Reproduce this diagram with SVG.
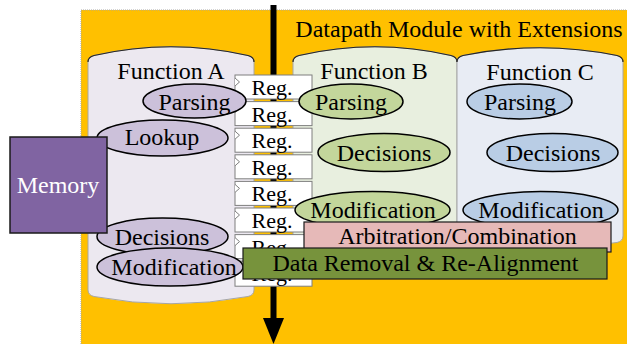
<svg xmlns="http://www.w3.org/2000/svg" width="627" height="344" viewBox="0 0 627 344">
<style>
text{font-family:"Liberation Serif","Times New Roman",serif;font-size:24px;fill:#000;text-anchor:middle}
.reg rect{fill:#fff;stroke:#7f7f7f;stroke-width:1}
.reg path{fill:#fff;stroke:#7f7f7f;stroke-width:1}
.reg text{font-size:22px}
.cyl{stroke:#a6a6a6;stroke-width:1}
.top{fill:none;stroke:#262626;stroke-width:1.2}
.ea ellipse{fill:#ccc1da;stroke:#000;stroke-width:1.5}
.eb ellipse{fill:#c3d69b;stroke:#000;stroke-width:1.5}
.ec ellipse{fill:#b9cde5;stroke:#000;stroke-width:1.5}
</style>
<rect x="81" y="10" width="546" height="334" fill="#ffc000"/>
<path d="M81,344 V10 H627" fill="none" stroke="#a6a6a6" stroke-width="1" stroke-dasharray="1,1"/>
<text x="459" y="37">Datapath Module with Extensions</text>

<g id="functionA">
<path class="cyl" d="M88,62 Q88,57 94,55.5 Q171,38 248,55.5 Q254,57 254,62 L254,290 Q254,295 248,296.5 Q171,311 94,296.5 Q88,295 88,290 Z" fill="#ece8f0"/>
<path class="top" d="M88,62 Q88,57 94,55.5 Q171,38 248,55.5 Q254,57 254,62"/>
<text x="171" y="79">Function A</text>
</g>
<g id="functionB">
<path class="cyl" d="M293,62 Q293,57 299,55.5 Q375,38 451,55.5 Q457,57 457,62 L457,234 Q457,239 451,240.5 Q375,252 299,240.5 Q293,239 293,234 Z" fill="#e8efdf"/>
<path class="top" d="M293,62 Q293,57 299,55.5 Q375,38 451,55.5 Q457,57 457,62"/>
<text x="374" y="79">Function B</text>
</g>
<g id="functionC">
<path class="cyl" d="M457,62 Q457,57 463,55.5 Q540,40 617,55.5 Q623,57 623,62 L623,236 Q623,241 617,242.5 Q540,254 463,242.5 Q457,241 457,236 Z" fill="#e8ecf4"/>
<path class="top" d="M457,62 Q457,57 463,55.5 Q540,40 617,55.5 Q623,57 623,62"/>
<text x="540" y="80">Function C</text>
</g>

<g id="connectors">
<line x1="273.5" y1="5" x2="273.5" y2="320" stroke="#000" stroke-width="6"/>
<polygon points="263,318 284,318 273.5,344" fill="#000"/>
</g>

<g id="registers" class="reg">
<rect x="235" y="75" width="77" height="24"/><path d="M235,78 L239.5,82 L235,86"/><text x="272" y="95">Reg.</text>
<rect x="235" y="101.6" width="77" height="24"/><path d="M235,104.6 L239.5,108.6 L235,112.6"/><text x="272" y="121.6">Reg.</text>
<rect x="235" y="128.2" width="77" height="24"/><path d="M235,131.2 L239.5,135.2 L235,139.2"/><text x="272" y="148.2">Reg.</text>
<rect x="235" y="154.8" width="77" height="24"/><path d="M235,157.8 L239.5,161.8 L235,165.8"/><text x="272" y="174.8">Reg.</text>
<rect x="235" y="181.4" width="77" height="24"/><path d="M235,184.4 L239.5,188.4 L235,192.4"/><text x="272" y="201.4">Reg.</text>
<rect x="235" y="208" width="77" height="24"/><path d="M235,211 L239.5,215 L235,219"/><text x="272" y="228">Reg.</text>
<rect x="235" y="234.6" width="77" height="24"/><path d="M235,237.6 L239.5,241.6 L235,245.6"/><text x="272" y="254.6">Reg.</text>
<rect x="235" y="261.2" width="77" height="25"/><path d="M235,264.2 L239.5,268.2 L235,272.2"/><text x="272" y="281.2">Reg.</text>
</g>

<g id="a-parsing" class="ea"><ellipse cx="194.5" cy="101" rx="51.5" ry="17"/><text x="194.5" y="110">Parsing</text></g>
<g id="a-lookup" class="ea"><ellipse cx="162.5" cy="138" rx="65.5" ry="18"/><text x="162" y="145">Lookup</text></g>
<g id="a-decisions" class="ea"><ellipse cx="162.5" cy="236.5" rx="65.5" ry="18.5"/><text x="162" y="245">Decisions</text></g>
<g id="a-modification" class="ea"><ellipse cx="170" cy="267" rx="73" ry="19"/><text x="174" y="275">Modification</text></g>

<g id="b-parsing" class="eb"><ellipse cx="351" cy="101.5" rx="52" ry="17.5"/><text x="351" y="110">Parsing</text></g>
<g id="b-decisions" class="eb"><ellipse cx="384" cy="152.5" rx="66" ry="19"/><text x="384" y="161">Decisions</text></g>
<g id="b-modification" class="eb"><ellipse cx="372.5" cy="210" rx="77.5" ry="18.5"/><text x="373" y="218">Modification</text></g>

<g id="c-parsing" class="ec"><ellipse cx="519.5" cy="101.5" rx="52.5" ry="17.5"/><text x="520" y="110">Parsing</text></g>
<g id="c-decisions" class="ec"><ellipse cx="552.5" cy="152.5" rx="65.5" ry="19"/><text x="553" y="161">Decisions</text></g>
<g id="c-modification" class="ec"><ellipse cx="540.5" cy="210" rx="77.5" ry="18.5"/><text x="541" y="218">Modification</text></g>

<g id="memory">
<rect x="10" y="137" width="97" height="96" fill="#8064a2" stroke="#1a1a1a" stroke-width="1.5"/>
<text x="58" y="193" style="fill:#fff">Memory</text>
</g>

<g id="arbitration">
<rect x="304" y="222" width="307" height="30" fill="#e6b9b8" stroke="#1a1a1a" stroke-width="1.2"/>
<text x="457.5" y="244">Arbitration/Combination</text>
</g>

<g id="data-removal">
<rect x="243" y="248" width="364" height="31" fill="#77933c" stroke="#1a1a1a" stroke-width="1.2"/>
<text x="425.5" y="271">Data Removal &amp; Re-Alignment</text>
</g>
</svg>
